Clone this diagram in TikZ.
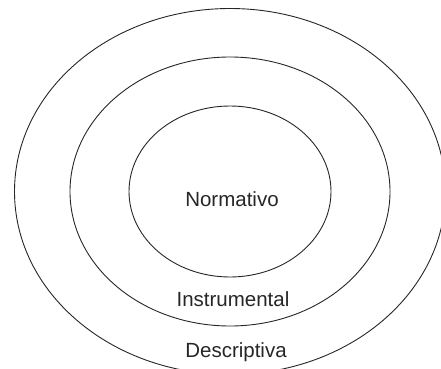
\documentclass[tikz,border=0pt]{standalone}
\usepackage{fontspec}
\setmainfont{Liberation Sans}
\usetikzlibrary{shapes.geometric}
\begin{document}
\begin{tikzpicture}[x=1pt,y=1pt,
  ring/.style={ellipse,draw=black!85,line width=0.9pt,inner sep=0pt},
  lbl/.style={font=\fontsize{20.5}{24}\selectfont,text=black!85,inner sep=0pt}]
\useasboundingbox (0,0) rectangle (441,368);
\clip (0,0) rectangle (441,368);
\node[ring,minimum width=431pt,minimum height=366pt] (outer) at (230,176.5) {};
\node[ring,minimum width=320pt,minimum height=269pt] (middle) at (230,176.5) {};
\node[ring,minimum width=202pt,minimum height=171pt] (inner) at (230,176.5) {};
\node[lbl] (norm) at (232,169) {Normativo};
\node[lbl] (instr) at (233,69) {Instrumental};
\node[lbl] (desc) at (236,15.5) {Descriptiva};
\end{tikzpicture}
\end{document}
